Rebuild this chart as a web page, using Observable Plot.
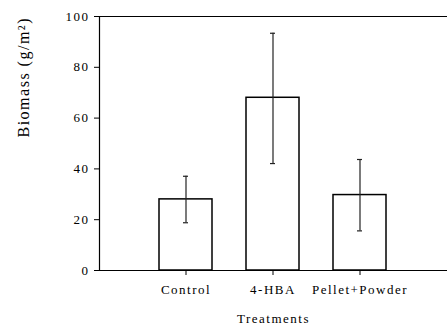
<!DOCTYPE html>
<html>
<head>
<meta charset="utf-8">
<script src="https://cdn.jsdelivr.net/npm/d3@7"></script>
<script src="https://cdn.jsdelivr.net/npm/@observablehq/plot@0.6"></script>
<style>
  html, body { margin: 0; padding: 0; background: #fff; }
</style>
</head>
<body>
<div id="chart"></div>
<script>
const treatments = ["Control", "4-HBA", "Pellet+Powder"];
const biomass = [28, 68, 29.7];
const errLow = [18.8, 42.1, 15.6];
const errHigh = [37.1, 93.4, 43.7];
const yTicks = [0, 20, 40, 60, 80, 100];
const yLabel = "Biomass (g/m²)";
const xLabel = "Treatments";

const data = treatments.map((t, i) => ({
  t, v: biomass[i], lo: errLow[i], hi: errHigh[i]
}));

const chart = Plot.plot({
  width: 447,
  height: 324,
  marginLeft: 99,
  marginRight: 0,
  marginTop: 16,
  marginBottom: 54,
  style: {fontFamily: "'Liberation Serif', 'Times New Roman', serif", fontSize: "13px", letterSpacing: "1.5px", color: "#000", background: "#fff"},
  x: {type: "band", domain: treatments, paddingInner: 0.39, paddingOuter: 0.695, label: null},
  y: {domain: [0, 100], label: null},
  marks: [
    Plot.frame({anchor: "left", stroke: "#000", strokeWidth: 1.2}),
    Plot.ruleY([0, 100], {stroke: "#000", strokeWidth: 1.2}),
    Plot.barY(data, {x: "t", y: "v", fill: "#fff", stroke: "#000", strokeWidth: 1.5}),
    Plot.ruleX(data, {x: "t", y1: "lo", y2: "hi", stroke: "#222", strokeWidth: 1.2}),
    Plot.tickY(data, {x: "t", y: "lo", stroke: "#222", strokeWidth: 1.2, insetLeft: 24, insetRight: 24}),
    Plot.tickY(data, {x: "t", y: "hi", stroke: "#222", strokeWidth: 1.2, insetLeft: 24, insetRight: 24}),
    Plot.axisY({ticks: yTicks, tickSize: 5, tickPadding: 5, label: null, fill: "#000"}),
    Plot.axisX({tickSize: 5, tickPadding: 9, label: null, fill: "#000"}),
    Plot.text([yLabel], {frameAnchor: "left", dx: -76, dy: -6, rotate: -90, fontSize: 16, fill: "#000", text: d => d}),
    Plot.text([xLabel], {frameAnchor: "bottom", dy: 52, fontSize: 13, fill: "#000", text: d => d})
  ]
});
document.getElementById("chart").appendChild(chart);
</script>
</body>
</html>
